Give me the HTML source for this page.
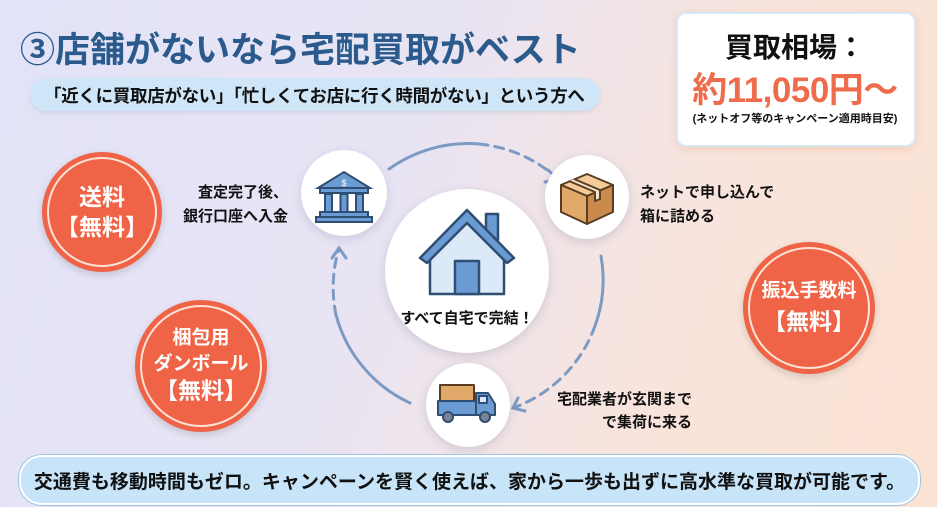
<!DOCTYPE html>
<html><head><meta charset="utf-8"><style>
body{margin:0;width:937px;height:507px;overflow:hidden;font-family:"Liberation Sans","Noto Sans CJK JP",sans-serif;}
.bg{position:absolute;left:0;top:0;width:937px;height:507px;background:linear-gradient(110deg,#e2e3f8 0%,#e8e4f4 40%,#f8e4dc 70%,#fbe3d3 100%);}
.t{position:absolute;white-space:nowrap;font-weight:bold;}
.oc{position:absolute;border-radius:50%;background:#ef6446;box-shadow:0 3px 8px rgba(0,0,0,.15);text-align:center;color:#fff;font-weight:bold;white-space:nowrap;}
.oc::after{content:"";position:absolute;left:5px;top:5px;right:5px;bottom:5px;border:2px solid #fde3d8;border-radius:50%;}
.oc div{position:absolute;left:0;right:0;top:50%;transform:translateY(-50%);}
.wc{position:absolute;border-radius:50%;background:#fff;box-shadow:0 3px 10px rgba(60,70,120,.18);}
</style></head><body>
<div class="bg"></div>
<div class="t" style="left:20px;top:22px;font-size:35px;color:#2b5b8c;">③店舗がないなら宅配買取がベスト</div>
<div style="position:absolute;left:30px;top:78px;width:570px;height:33px;border-radius:17px;background:#cfe6f8;box-shadow:0 2px 4px rgba(0,0,0,.08);"></div>
<div class="t" style="left:44px;top:83px;font-size:17.5px;color:#111;letter-spacing:-0.3px;">「近くに買取店がない」「忙しくてお店に行く時間がない」という方へ</div>
<div style="position:absolute;left:676px;top:12px;width:236px;height:131px;border-radius:10px;background:#fff;border:2px solid #d6e8f6;box-shadow:0 2px 8px rgba(240,150,100,.3);"></div>
<div class="t" style="left:676px;width:238px;text-align:center;top:26px;font-size:28px;color:#111;">買取相場：</div>
<div class="t" style="left:676px;width:238px;text-align:center;top:62px;font-size:35px;color:#ee6c4b;letter-spacing:-0.5px;">約11,050円〜</div>
<div class="t" style="left:676px;width:238px;text-align:center;top:110px;font-size:11px;color:#111;">(ネットオフ等のキャンペーン適用時目安)</div>

<div class="oc" style="left:42px;top:152px;width:120px;height:120px;font-size:23px;line-height:30px;"><div>送料<br>【無料】</div></div>
<div class="oc" style="left:135px;top:300px;width:132px;height:132px;font-size:19px;line-height:26px;"><div>梱包用<br>ダンボール<br><span style="font-size:23px">【無料】</span></div></div>
<div class="oc" style="left:743px;top:242px;width:132px;height:132px;font-size:19px;line-height:30px;"><div>振込手数料<br><span style="font-size:23px">【無料】</span></div></div>

<svg style="position:absolute;left:0;top:0" width="937" height="507">
<g fill="none" stroke="#7b9ac4" stroke-width="3" stroke-linecap="round">
<path d="M389 169 A136 136 0 0 1 479 144"/>
<path d="M479 144 A136 136 0 0 1 558 179" stroke-dasharray="9 7"/>
<path d="M548 170 L558 179 L545 182"/>
<path d="M601 256 A136 136 0 0 1 595 326"/>
<path d="M595 326 A136 136 0 0 1 513 408" stroke-dasharray="9 7"/>
<path d="M518 398 L513 408 L525 411"/>
<path d="M410 403 A136 136 0 0 1 336 315"/>
<path d="M336 315 A136 136 0 0 1 339 248" stroke-dasharray="9 7"/>
<path d="M332 258 L339 248 L346 258"/>
</g>
</svg>

<div class="wc" style="left:385px;top:189px;width:164px;height:164px;"></div>
<div class="wc" style="left:301px;top:150px;width:86px;height:86px;"></div>
<div class="wc" style="left:545px;top:155px;width:84px;height:84px;"></div>
<div class="wc" style="left:426px;top:363px;width:84px;height:84px;"></div>

<svg style="position:absolute;left:0;top:0" width="937" height="507">
<g stroke="#2e4e73" stroke-width="2.5" stroke-linejoin="round">
<rect x="486" y="214" width="12" height="26" fill="#6a9bd2"/>
<path d="M430 252 L467 216 L504 252 L504 294 L430 294 Z" fill="#dbe9f8"/>
<path d="M420 258 L467 210 L514 258 L507 263 L467 223 L427 263 Z" fill="#6a9bd2"/>
<rect x="455" y="261" width="24" height="33" fill="#6a9bd2"/>
</g>
<g stroke="#2e4e73" stroke-width="2" fill="#6a9bd2">
<path d="M318 188 L344 172 L370 188 Z"/>
<rect x="320" y="188" width="48" height="5"/>
<rect x="325" y="194" width="7" height="18"/><rect x="340.5" y="194" width="7" height="18"/><rect x="356" y="194" width="7" height="18"/>
<rect x="320" y="212" width="48" height="5"/><rect x="316" y="217" width="56" height="5"/>
</g>
<text x="344" y="186" font-size="9" fill="#fff" text-anchor="middle" font-family="Liberation Sans">$</text>
<g stroke="#5a3d22" stroke-width="2" stroke-linejoin="round">
<path d="M561 185 L587 174 L613 185 L587 196 Z" fill="#f3cc9a"/>
<path d="M561 185 L587 196 L587 224 L561 212 Z" fill="#e0a96a"/>
<path d="M587 196 L613 185 L613 212 L587 224 Z" fill="#c98a4e"/>
<path d="M574 179 L600 190 L600 199 L595 201 L595 192 L569 181" fill="#f8e6cc"/>
</g>
<g stroke="#2e4e73" stroke-width="2" stroke-linejoin="round">
<rect x="440" y="385" width="34" height="28" fill="#e0a96a" stroke="#5a3d22"/>
<rect x="438" y="401" width="38" height="14" fill="#6a9bd2"/>
<path d="M476 393 L488 393 L495 404 L495 415 L476 415 Z" fill="#6a9bd2"/>
<rect x="479" y="396" width="8" height="7" fill="#dbe9f8"/>
<circle cx="448" cy="417" r="5" fill="#7c8391"/><circle cx="485" cy="417" r="5" fill="#7c8391"/>
</g>
</svg>

<div class="t" style="left:385px;width:164px;text-align:center;top:307px;font-size:15px;color:#111;">すべて自宅で完結！</div>
<div class="t" style="left:183px;top:181px;font-size:15px;line-height:24px;color:#111;text-align:right;">査定完了後、<br>銀行口座へ入金</div>
<div class="t" style="left:640px;top:181px;font-size:15px;line-height:24px;color:#111;">ネットで申し込んで<br>箱に詰める</div>
<div class="t" style="left:557px;top:388px;font-size:15px;line-height:23px;color:#111;text-align:right;">宅配業者が玄関まで<br>で集荷に来る</div>

<div style="position:absolute;left:19px;top:455px;width:897px;height:46px;border-radius:23px;background:#c8e4f9;border:2px solid #fff;box-shadow:0 0 0 1px #9cc4e6;"></div>
<div class="t" style="left:19px;width:901px;text-align:center;top:467px;font-size:19px;color:#111;">交通費も移動時間もゼロ。キャンペーンを賢く使えば、家から一歩も出ずに高水準な買取が可能です。</div>
</body></html>
